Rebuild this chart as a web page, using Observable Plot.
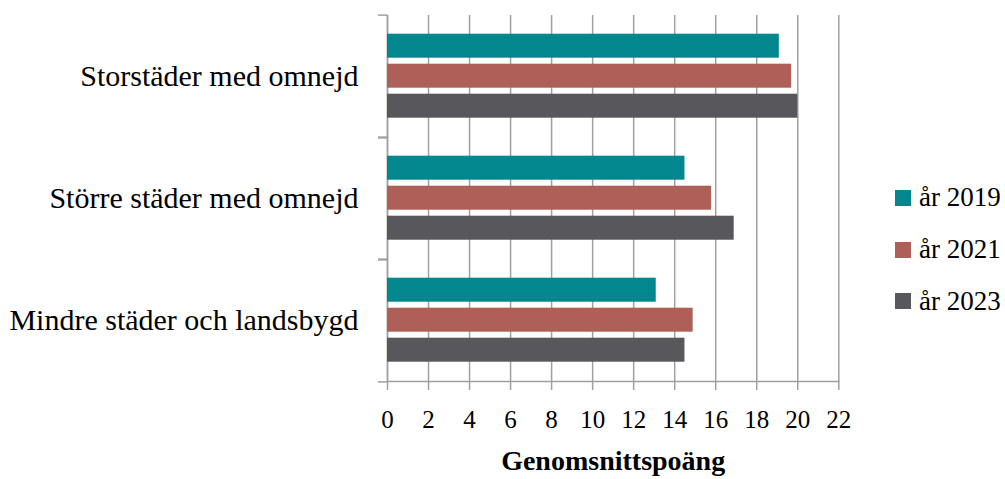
<!DOCTYPE html>
<html>
<head>
<meta charset="utf-8">
<script src="https://cdn.jsdelivr.net/npm/d3@7"></script>
<script src="https://cdn.jsdelivr.net/npm/@observablehq/plot@0.6"></script>
<style>
  html, body { margin: 0; padding: 0; background: #fff; }
  #wrap { position: relative; width: 1005px; height: 479px; font-family: 'Liberation Serif', serif; }
  #legend { position: absolute; left: 895px; top: 172px; display: flex; flex-direction: column; }
  .item { display: flex; align-items: center; height: 51.7px; font-size: 27px; color: #000; }
  .sw { width: 16px; height: 16px; margin-right: 8px; flex: none; }
  g[aria-label="x-axis label"] { font-weight: bold; font-size: 28px; }
</style>
</head>
<body>
<div id="wrap"><div id="chart"></div><div id="legend"></div></div>
<script>
const categories = ["Storstäder med omnejd", "Större städer med omnejd", "Mindre städer och landsbygd"];
const years = ["år 2019", "år 2021", "år 2023"];
const values2019 = [19.1, 14.5, 13.1];
const values2021 = [19.7, 15.8, 14.9];
const values2023 = [20.0, 16.9, 14.5];
const xTicks = [0, 2, 4, 6, 8, 10, 12, 14, 16, 18, 20, 22];
const colors = ["#03878f", "#ad5f58", "#58585c"];
const xLabel = "Genomsnittspoäng";

const series = [values2019, values2021, values2023];
const data = [];
categories.forEach((c, i) => years.forEach((y, j) => data.push({category: c, year: y, value: series[j][i]})));

const W = 1005, H = 479, mT = 14.3, mB = 96.3, mL = 387, mR = 166.7;
const bw = (H - mT - mB) / categories.length;
const gray = "#a0a0a0";
const sw = 1.5;

const chart = Plot.plot({
  width: W, height: H,
  marginLeft: mL, marginRight: mR, marginTop: mT, marginBottom: mB,
  style: {fontFamily: "'Liberation Serif', serif", fontSize: "25px", color: "#000", background: "transparent"},
  x: {domain: [0, 22]},
  y: {domain: years, paddingInner: 0.2, paddingOuter: 0.594, axis: null},
  fy: {domain: categories, padding: 0},
  color: {domain: years, range: colors},
  marks: [
    Plot.gridX(xTicks, {stroke: gray, strokeOpacity: 1, strokeWidth: sw}),
    Plot.frame({anchor: "left", stroke: gray, strokeOpacity: 1, strokeWidth: sw}),
    Plot.frame({anchor: "bottom", facetAnchor: "bottom", stroke: gray, strokeOpacity: 1, strokeWidth: sw}),
    Plot.barX(data, {x: "value", y: "year", fy: "category", fill: "year"}),
    Plot.axisX(xTicks, {tickSize: 9, tickPadding: 20, stroke: gray, strokeWidth: sw, label: xLabel, labelAnchor: "center", labelArrow: "none", labelOffset: 88}),
    Plot.axisFy({anchor: "left", tickSize: 0, tickPadding: 29, label: null, fontSize: 30}),
    Plot.axisFy({anchor: "left", tickSize: 9, fill: "none", dy: -bw / 2, stroke: gray, strokeWidth: sw, label: null}),
    Plot.axisFy([categories[categories.length - 1]], {anchor: "left", tickSize: 9, fill: "none", dy: bw / 2, stroke: gray, strokeWidth: sw, label: null})
  ]
});
document.getElementById("chart").appendChild(chart);

const legend = d3.select("#legend");
years.forEach((y, i) => {
  const it = legend.append("div").attr("class", "item");
  it.append("div").attr("class", "sw").style("background", colors[i]);
  it.append("span").text(y);
});
</script>
</body>
</html>
